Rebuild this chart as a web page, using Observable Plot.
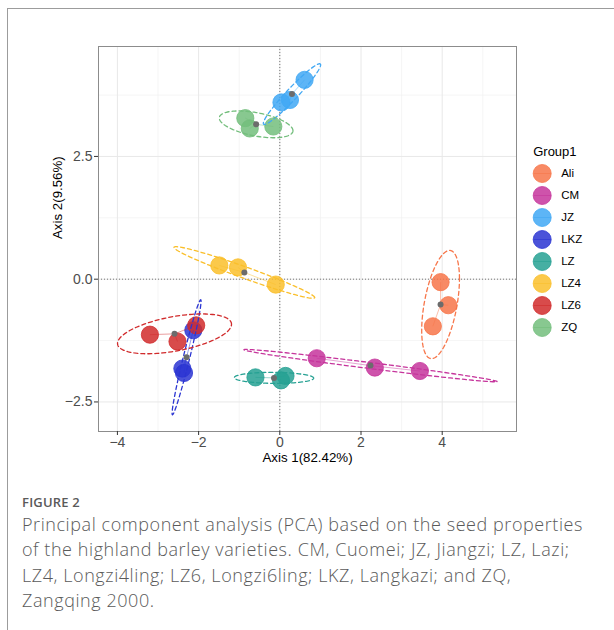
<!DOCTYPE html>
<html>
<head>
<meta charset="utf-8">
<script src="https://cdn.jsdelivr.net/npm/d3@7"></script>
<script src="https://cdn.jsdelivr.net/npm/@observablehq/plot@0.6"></script>
<style>
  html, body { margin: 0; padding: 0; background: #fff; }
  body { width: 614px; height: 630px; position: relative; overflow: hidden; }
  #frame { position: absolute; left: 7px; top: 8px; width: 700px; height: 700px;
           border-left: 1.5px solid #9c9c9c; border-top: 1.5px solid #9c9c9c; }
  #chart { position: absolute; left: 0; top: 0; }
  #legend { position: absolute; left: 520px; top: 130px; }
  #chart [aria-label$="tick label"] text { font-size: 14px !important; }
  #caption { position: absolute; left: 22px; top: 492px; color: #5a5a5a;
             font-family: "Open Sans", "Noto Sans", sans-serif; }
  #caption .fig { font-size: 13px; font-weight: 600; letter-spacing: 0.2px; line-height: 20px; }
  #caption .txt { font-size: 18px; font-weight: 300; line-height: 25.3px; white-space: nowrap; }
</style>
</head>
<body>
<div id="frame"></div>
<div id="chart"></div>
<div id="legend"></div>
<div id="caption">
  <div class="fig">FIGURE 2</div>
  <div class="txt"><span class="line">Principal component analysis (PCA) based on the seed properties</span><br>of the highland barley varieties. CM, Cuomei; JZ, Jiangzi; LZ, Lazi;<br>LZ4, Longzi4ling; LZ6, Longzi6ling; LKZ, Langkazi; and ZQ,<br>Zangqing 2000.</div>
</div>
<script>
// Varieties and their colours
const groups = ["Ali", "CM", "JZ", "LKZ", "LZ", "LZ4", "LZ6", "ZQ"];
const groupColors = ["#F7764A", "#C6359C", "#41A8F4", "#2B35D2", "#26A193", "#FABF2B", "#D12B2C", "#73BE7C"];

// PCA scores of each sample (three replicates per variety)
const sampleGroup = [
  "Ali", "Ali", "Ali",
  "CM", "CM", "CM",
  "JZ", "JZ", "JZ",
  "LKZ", "LKZ", "LKZ",
  "LZ", "LZ", "LZ",
  "LZ4", "LZ4", "LZ4",
  "LZ6", "LZ6", "LZ6",
  "ZQ", "ZQ", "ZQ"
];
const axis1 = [
  3.96, 4.15, 3.77,
  0.91, 2.34, 3.45,
  0.61, 0.25, 0.04,
  -2.13, -2.40, -2.36,
  -0.60, 0.14, 0.03,
  -1.49, -1.03, -0.10,
  -3.20, -2.52, -2.06,
  -0.85, -0.74, -0.16
];
const axis2 = [
  -0.06, -0.53, -0.96,
  -1.61, -1.80, -1.87,
  4.06, 3.65, 3.60,
  -1.04, -1.82, -1.91,
  -2.00, -1.97, -2.06,
  0.28, 0.24, -0.11,
  -1.13, -1.27, -0.94,
  3.28, 3.07, 3.11
];

// Axis ticks
const xTicks = [-4, -2, 0, 2, 4];
const yTicks = [-2.5, 0, 2.5];
const xMinorTicks = [-3, -1, 1, 3, 5];
const yMinorTicks = [-1.25, 1.25, 3.75];

const axisTitleX = "Axis 1(82.42%)";
const axisTitleY = "Axis 2(9.56%)";
const legendTitle = "Group1";

// Sample table
const samples = sampleGroup.map((g, i) => ({group: g, x: axis1[i], y: axis2[i]}));

// Group centroids
const centroids = groups.map(g => {
  const pts = samples.filter(d => d.group === g);
  return {group: g, x: d3.mean(pts, d => d.x), y: d3.mean(pts, d => d.y)};
});
const centroidOf = new Map(centroids.map(c => [c.group, c]));

// 95% normal ellipse around each group (chi-square, 2 df)
const radius = Math.sqrt(-2 * Math.log(1 - 0.95));
const ellipses = [];
for (const c of centroids) {
  const pts = samples.filter(d => d.group === c.group);
  const n = pts.length;
  const sxx = d3.sum(pts, d => (d.x - c.x) ** 2) / (n - 1);
  const syy = d3.sum(pts, d => (d.y - c.y) ** 2) / (n - 1);
  const sxy = d3.sum(pts, d => (d.x - c.x) * (d.y - c.y)) / (n - 1);
  const l11 = Math.sqrt(sxx);
  const l21 = sxy / l11;
  const l22 = Math.sqrt(Math.max(syy - l21 * l21, 0));
  for (let k = 0; k <= 120; k++) {
    const t = (2 * Math.PI * k) / 120;
    ellipses.push({
      group: c.group,
      x: c.x + radius * l11 * Math.cos(t),
      y: c.y + radius * (l21 * Math.cos(t) + l22 * Math.sin(t))
    });
  }
}

const colorScale = {domain: groups, range: groupColors};
const font = "'Liberation Sans', Arial, Helvetica, sans-serif";
const signed = fmt => d => d3.format(fmt)(d).replace("-", "\u2212");

const chart = Plot.plot({
  width: 614,
  height: 480,
  marginLeft: 98,
  marginRight: 98,
  marginTop: 46,
  marginBottom: 49,
  style: {fontFamily: font, fontSize: "14px", background: "transparent", overflow: "visible"},
  x: {domain: [-4.466, 5.83], label: null},
  y: {domain: [-3.102, 4.739], label: null},
  color: colorScale,
  marks: [
    Plot.gridX(xMinorTicks, {stroke: "#f0f0f0", strokeOpacity: 1, strokeWidth: 0.7}),
    Plot.gridY(yMinorTicks, {stroke: "#f0f0f0", strokeOpacity: 1, strokeWidth: 0.7}),
    Plot.gridX(xTicks, {stroke: "#e8e8e8", strokeOpacity: 1, strokeWidth: 1}),
    Plot.gridY(yTicks, {stroke: "#e8e8e8", strokeOpacity: 1, strokeWidth: 1}),
    Plot.ruleX([0], {stroke: "#777", strokeDasharray: "1,2", strokeWidth: 1}),
    Plot.ruleY([0], {stroke: "#777", strokeDasharray: "1,2", strokeWidth: 1}),
    Plot.dot(samples, {x: "x", y: "y", r: 8.6, fill: "group", fillOpacity: 0.85,
                       stroke: "group", strokeWidth: 0.8}),
    Plot.link(samples, {
      x1: "x", y1: "y",
      x2: d => centroidOf.get(d.group).x,
      y2: d => centroidOf.get(d.group).y,
      stroke: "group", strokeOpacity: 0.45, strokeWidth: 1
    }),
    Plot.line(ellipses, {x: "x", y: "y", z: "group", stroke: "group",
                         strokeDasharray: "4,3", strokeWidth: 1.3}),
    Plot.dot(centroids, {x: "x", y: "y", r: 3, fill: "#6c6c6c"}),
    Plot.frame({stroke: "#8c8c8c", strokeWidth: 1}),
    Plot.axisX(xTicks, {tickSize: 4, tickPadding: 2, stroke: "#333", fill: "#4d4d4d",
                        fontSize: 14, tickFormat: signed("d")}),
    Plot.axisY(yTicks, {tickSize: 4, tickPadding: 2, stroke: "#333", fill: "#4d4d4d",
                        fontSize: 14, tickFormat: signed(".1f")}),
    Plot.text([axisTitleX], {frameAnchor: "bottom", dy: 30, text: d => d, fontSize: 13.3, fill: "#000"}),
    Plot.text([axisTitleY], {frameAnchor: "left", dx: -41, rotate: -90, text: d => d, fontSize: 13.3, fill: "#000"})
  ]
});
document.getElementById("chart").appendChild(chart);

// Legend: circles with the spider-segment key across them
const legend = Plot.plot({
  width: 94,
  height: 215,
  marginLeft: 21.7,
  marginRight: 53.3,
  marginTop: 40.7,
  marginBottom: 16,
  style: {fontFamily: font, background: "transparent", overflow: "visible"},
  x: {domain: [0, 1], axis: null},
  y: {type: "point", domain: groups, axis: null, padding: 0},
  color: colorScale,
  marks: [
    Plot.dot(groups, {x: () => 0, y: d => d, r: 9, fill: d => d, fillOpacity: 0.85,
                      stroke: d => d, strokeWidth: 0.8}),
    Plot.link(groups, {x1: () => -0.45, x2: () => 0.45, y1: d => d, y2: d => d,
                       stroke: d => d, strokeOpacity: 0.6, strokeWidth: 1}),
    Plot.text(groups, {x: () => 1, y: d => d, text: d => d, textAnchor: "start",
                       fontSize: 11.5, fill: "#000"}),
    Plot.text([legendTitle], {frameAnchor: "top-left", dx: -9, dy: -24.7, text: d => d,
                              textAnchor: "start", fontSize: 13, fill: "#000"})
  ]
});
document.getElementById("legend").appendChild(legend);

// Spread the caption so its first line runs the full text width
const txt = document.querySelector("#caption .txt");
const first = document.querySelector("#caption .line");
const target = 561;
const chars = first.textContent.length;
const w = first.getBoundingClientRect().width;
txt.style.letterSpacing = ((target - w) / chars).toFixed(3) + "px";
</script>
</body>
</html>
